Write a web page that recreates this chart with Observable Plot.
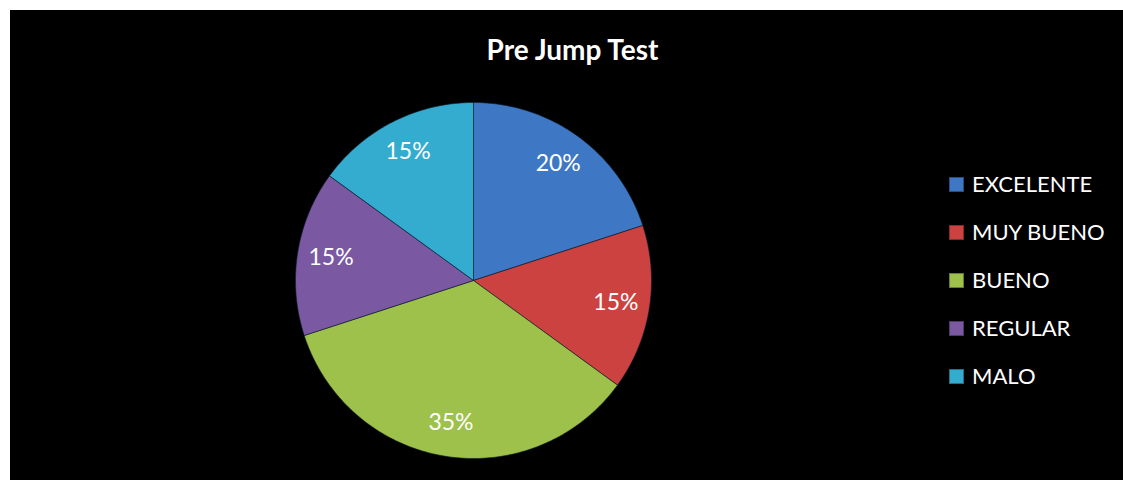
<!DOCTYPE html>
<html><head><meta charset="utf-8">
<script src="https://cdn.jsdelivr.net/npm/d3@7"></script>
<script src="https://cdn.jsdelivr.net/npm/@observablehq/plot@0.6"></script>
<style>
html,body{margin:0;padding:0;background:#fff;}
#wrap{position:absolute;left:10px;top:10px;width:1113px;height:470px;background:#000;overflow:hidden;font-family:Lato,"Open Sans",sans-serif;}
#chart{position:absolute;left:0;top:0;}
#title{position:absolute;left:0;width:1125px;top:22px;text-align:center;color:#fff;font-weight:bold;font-size:28px;line-height:34px;}
#legend{position:absolute;left:939px;top:149px;}
.item{display:flex;align-items:center;height:48px;color:#fff;font-size:22px;}
.sw{width:15px;height:15px;margin-right:8px;margin-top:3px;box-sizing:border-box;border:1px solid rgba(0,0,0,0.35);}
</style></head>
<body>
<div id="wrap">
  <div id="chart"></div>
  <div id="title"></div>
  <div id="legend"></div>
</div>
<script>
const title = "Pre Jump Test";
const categories = ["EXCELENTE", "MUY BUENO", "BUENO", "REGULAR", "MALO"];
const values = [20, 15, 35, 15, 15];
const labels = ["20%", "15%", "35%", "15%", "15%"];
const colors = ["#3e78c5", "#cc4240", "#9dc14b", "#7a58a2", "#33acd0"];

const total = d3.sum(values);
const rows = [];
const labelRows = [];
let acc = 0;
categories.forEach((c, i) => {
  const a0 = acc / total * 2 * Math.PI;
  acc += values[i];
  const a1 = acc / total * 2 * Math.PI;
  const n = Math.max(2, Math.ceil((a1 - a0) / (Math.PI / 180)));
  rows.push({cat: c, x: 0, y: 0});
  for (let k = 0; k <= n; k++) {
    const a = a0 + (a1 - a0) * k / n;
    rows.push({cat: c, x: Math.sin(a), y: Math.cos(a)});
  }
  rows.push({cat: c, x: 0, y: 0});
  const am = (a0 + a1) / 2;
  labelRows.push({cat: c, label: labels[i], x: 0.81 * Math.sin(am), y: 0.81 * Math.cos(am)});
});

const chart = Plot.plot({
  width: 1113,
  height: 470,
  x: {domain: [-1, 1], range: [285, 641], axis: null},
  y: {domain: [-1, 1], range: [448, 92], axis: null},
  color: {domain: categories, range: colors},
  style: {background: "transparent", fontFamily: "Lato, 'Open Sans', sans-serif"},
  marks: [
    Plot.line(rows, {x: "x", y: "y", z: "cat", fill: "cat", stroke: "#0b1a2a", strokeWidth: 1, strokeOpacity: 0.6, curve: "linear"}),
    Plot.text(labelRows, {x: "x", y: "y", text: "label", fill: "white", fontSize: 23})
  ]
});
document.getElementById("chart").appendChild(chart);

document.getElementById("title").textContent = title;
const legend = document.getElementById("legend");
categories.forEach((c, i) => {
  const item = document.createElement("div");
  item.className = "item";
  const sw = document.createElement("span");
  sw.className = "sw";
  sw.style.background = colors[i];
  const t = document.createElement("span");
  t.textContent = c;
  item.appendChild(sw);
  item.appendChild(t);
  legend.appendChild(item);
});
</script>
</body></html>
